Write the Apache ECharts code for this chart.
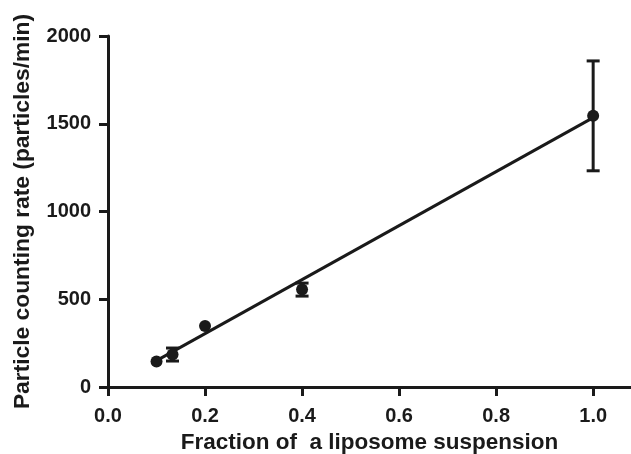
<!DOCTYPE html>
<html>
<head>
<meta charset="utf-8">
<script src="https://cdn.jsdelivr.net/npm/echarts@6/dist/echarts.min.js"></script>
<style>html,body{margin:0;padding:0;background:#fff}#c{width:631px;height:454px}</style>
</head>
<body>
<div id="c"></div>
<script>
var xValues = [0.1, 0.133, 0.2, 0.4, 1.0];
var yValues = [145, 185, 348, 555, 1545];
var yErrors = [0, 37, 0, 37, 313];
var fitX = [0.1, 1.0];
var fitY = [150, 1535];
var xTicks = [0, 0.2, 0.4, 0.6, 0.8, 1.0];
var yTicks = [0, 500, 1000, 1500, 2000];

var FONT = '"Liberation Sans", Arial, sans-serif';
var INK = '#1a1a1a';

var chart = echarts.init(document.getElementById('c'), null, {renderer: 'canvas'});

var pts = xValues.map(function (x, i) { return [x, yValues[i]]; });
var errData = xValues.map(function (x, i) { return [x, yValues[i] - yErrors[i], yValues[i] + yErrors[i]]; });
var fitData = fitX.map(function (x, i) { return [x, fitY[i]]; });

chart.setOption({
  animation: false,
  grid: {left: 108, right: 0, top: 36, bottom: 67, containLabel: false, outerBoundsMode: 'none'},
  xAxis: {
    type: 'value', min: 0, max: 1.078,
    name: 'Fraction of  a liposome suspension',
    nameLocation: 'middle', nameGap: 44,
    nameTextStyle: {fontFamily: FONT, fontWeight: 'bold', fontSize: 22.5, color: INK},
    splitLine: {show: false},
    axisLine: {show: true, onZero: false, lineStyle: {color: INK, width: 3}},
    axisTick: {show: true, length: 9, inside: false, customValues: xTicks, lineStyle: {color: INK, width: 3}},
    axisLabel: {customValues: xTicks, margin: 19, fontFamily: FONT, fontWeight: 'bold', fontSize: 20, color: INK,
      formatter: function (v) { return v.toFixed(1); }}
  },
  yAxis: {
    type: 'value', min: 0, max: 2000, interval: 500,
    name: 'Particle counting rate (particles/min)',
    nameLocation: 'middle', nameGap: 74,
    nameTextStyle: {fontFamily: FONT, fontWeight: 'bold', fontSize: 22.8, color: INK},
    splitLine: {show: false},
    axisLine: {show: true, lineStyle: {color: INK, width: 3}},
    axisTick: {show: true, length: 9, customValues: yTicks, lineStyle: {color: INK, width: 3}},
    axisLabel: {customValues: yTicks, margin: 17, fontFamily: FONT, fontWeight: 'bold', fontSize: 20, color: INK,
      formatter: function (v) { return String(v); }}
  },
  series: [
    {
      type: 'line', data: fitData, showSymbol: false, symbol: 'none',
      lineStyle: {color: INK, width: 3}, z: 2
    },
    {
      type: 'custom', data: errData, z: 3,
      renderItem: function (params, api) {
        var x = api.value(0);
        var lo = api.coord([x, api.value(1)]);
        var hi = api.coord([x, api.value(2)]);
        if (Math.abs(hi[1] - lo[1]) < 1) return null;
        var cw = 6.5;
        var st = {stroke: INK, lineWidth: 3};
        return {type: 'group', children: [
          {type: 'line', shape: {x1: lo[0], y1: lo[1], x2: hi[0], y2: hi[1]}, style: st},
          {type: 'line', shape: {x1: lo[0] - cw, y1: lo[1], x2: lo[0] + cw, y2: lo[1]}, style: st},
          {type: 'line', shape: {x1: hi[0] - cw, y1: hi[1], x2: hi[0] + cw, y2: hi[1]}, style: st}
        ]};
      }
    },
    {
      type: 'scatter', data: pts, symbol: 'circle', symbolSize: 12, z: 4,
      itemStyle: {color: INK, opacity: 1}
    }
  ]
});
</script>
</body>
</html>
